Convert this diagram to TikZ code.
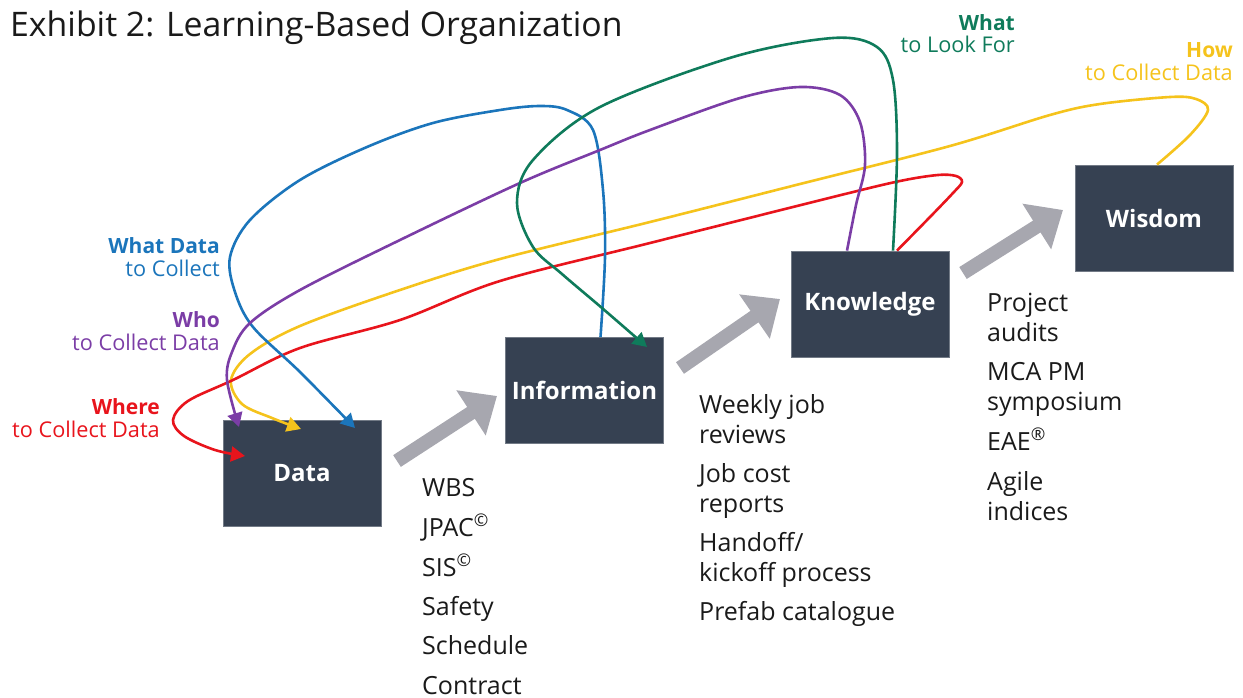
\documentclass[tikz,border=0pt]{standalone}
\usepackage{fontspec}
\setmainfont{Open Sans}[Ligatures=NoCommon]
\usetikzlibrary{arrows.meta}
\definecolor{cblue}{HTML}{1B75BB}
\definecolor{cpurple}{HTML}{7B3DA6}
\definecolor{cyellow}{HTML}{F5C31C}
\definecolor{cred}{HTML}{E8141C}
\definecolor{cgreen}{HTML}{0F7B5B}
\definecolor{cbox}{HTML}{364152}
\definecolor{cgray}{HTML}{A7A7AF}
\definecolor{ctext}{HTML}{1A1A1A}
\begin{document}
\begin{tikzpicture}[x=1pt,y=-1pt,
  box/.style={fill=cbox, draw=cbox!70!white, line width=0.8pt, minimum width=158pt, minimum height=106pt, inner sep=0pt, text=white, font=\fontsize{24}{28}\selectfont\bfseries},
  stepper/.style={draw=cgray, line width=14pt, -{Triangle[length=31pt,width=52pt]}},
  curve/.style={line width=2.6pt, -{Triangle[length=14pt,width=15pt]}},
  item/.style={anchor=base west, inner sep=0pt, text=ctext, font=\fontsize{25}{28}\selectfont},
  lab/.style={anchor=base east, inner sep=0pt, font=\fontsize{21.7}{24}\selectfont},
  labb/.style={anchor=base east, inner sep=0pt, font=\fontsize{21}{24}\selectfont\bfseries}]
\useasboundingbox (0,0) rectangle (1243,698);
% title
\node[anchor=base west, inner sep=0pt, text=ctext, font=\fontsize{33.8}{38}\selectfont] (title) at (10,37) {Exhibit 2: Learning-Based Organization};
% boxes
\node[box] (data) at (302,473) {Data};
\node[box] (info) at (584.5,390.5) {Information};
\node[box] (know) at (870,304) {Knowledge};
\node[box] (wis) at (1154,218) {Wisdom};
% gray step arrows
\coordinate (g1s) at (397,461); \coordinate (g1e) at (497,396);
\coordinate (g2s) at (680,368); \coordinate (g2e) at (780,299);
\coordinate (g3s) at (963,273); \coordinate (g3e) at (1063,210);
\draw[stepper] (g1s) -- (g1e);
\draw[stepper] (g2s) -- (g2e);
\draw[stepper] (g3s) -- (g3e);
% curve anchors
\coordinate (bS) at ([xshift=16pt]info.north);
\coordinate (bE) at (355,428);
\coordinate (pS) at ([xshift=-23pt]know.north);
\coordinate (pE) at (239,427);
\coordinate (yS) at ([xshift=3pt]wis.north);
\coordinate (yE) at (301,429);
\coordinate (rS) at ([xshift=27pt]know.north);
\coordinate (rE) at (245,456);
\coordinate (gS) at ([xshift=23pt]know.north);
\coordinate (gE) at (647,347);
% curves
\draw[curve, cyellow] plot[smooth, tension=0.55] coordinates {(yS) (1190,135) (1208,110) (1196,99) (1170,97) (1100,104) (1050,115) (950,146) (800,184) (650,222) (500,259) (400,290) (300,326) (250,354) (231,380) (242,404) (272,418) (yE)};
\draw[curve, cred] plot[smooth, tension=0.55] coordinates {(rS) (930,217) (953,193) (962,182) (956,176) (938,175) (900,181) (833,197) (650,243) (500,281) (400,320) (300,348) (233,380) (188,401) (173,420) (184,436) (215,450) (rE)};
\draw[curve, cblue] plot[smooth, tension=0.55] coordinates {(bS) (605,257) (603,190) (593,130) (567,110) (540,106) (500,110) (433,123) (367,147) (300,180) (250,220) (230,257) (235,292) (253,327) (300,372) (bE)};
\draw[curve, cpurple] plot[smooth, tension=0.55] coordinates {(pS) (856,205) (865,165) (860,122) (840,95) (800,87) (740,98) (650,130) (600,150) (520,183) (400,240) (300,290) (250,323) (232,352) (227,380) (pE)};
\draw[curve, cgreen] plot[smooth, tension=0.55] coordinates {(gS) (897,153) (893,80) (877,47) (833,38) (733,57) (600,107) (533,160) (517,203) (533,247) (562,274) (602,308) (gE)};
% labels
\node[labb, text=cblue] (l1a) at (220,253) {What Data};
\node[lab, text=cblue] (l1b) at (220,276) {to Collect};
\node[labb, text=cpurple] (l2a) at (220,327) {Who};
\node[lab, text=cpurple] (l2b) at (220,350) {to Collect Data};
\node[labb, text=cred] (l3a) at (160,414) {Where};
\node[lab, text=cred] (l3b) at (160,437) {to Collect Data};
\node[labb, text=cgreen] (l4a) at (1015,31) {What};
\node[lab, text=cgreen] (l4b) at (1015,53) {to Look For};
\node[labb, text=cyellow] (l5a) at (1233,58) {How};
\node[lab, text=cyellow] (l5b) at (1233,81) {to Collect Data};
% lists
\node[item] (i1) at (422,496) {WBS};
\node[item] (i2) at (422,536) {JPAC\textsuperscript{©}};
\node[item] (i3) at (422,576) {SIS\textsuperscript{©}};
\node[item] (i4) at (422,615) {Safety};
\node[item] (i5) at (422,654) {Schedule};
\node[item] (i6) at (422,694) {Contract};
\node[item] (k1) at (699,413) {Weekly job};
\node[item] (k2) at (699,443) {reviews};
\node[item] (k3) at (699,482) {Job cost};
\node[item] (k4) at (699,512) {reports};
\node[item] (k5) at (699,551) {Handoff/};
\node[item] (k6) at (699,581) {kickoff process};
\node[item] (k7) at (699,620) {Prefab catalogue};
\node[item] (w1) at (987,311) {Project};
\node[item] (w2) at (987,341) {audits};
\node[item] (w3) at (987,380) {MCA PM};
\node[item] (w4) at (987,410) {symposium};
\node[item] (w5) at (987,450) {EAE\textsuperscript{®}};
\node[item] (w6) at (987,490) {Agile};
\node[item] (w7) at (987,520) {indices};
\end{tikzpicture}
\end{document}
